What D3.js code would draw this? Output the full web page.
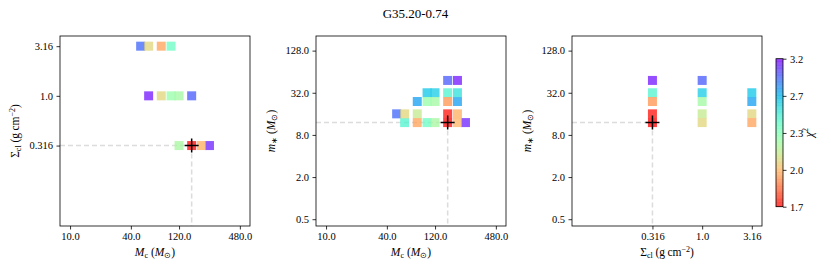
<!DOCTYPE html>
<html>
<head>
<meta charset="utf-8">
<script src="https://cdn.jsdelivr.net/npm/d3@7/dist/d3.min.js"></script>
<style>
  body { margin: 0; background: #fff; }
  svg text { font-family: "Liberation Serif", "Times New Roman", serif; fill: #000; }
</style>
</head>
<body>
<svg id="chart" width="831" height="271"></svg>
<script>
// ---- data ----
var titleText = 'G35.20-0.74';

// one entry per model
var mcValues    = [160, 160, 160, 160, 160, 200, 200, 200, 200, 200, 240, 120, 120, 120, 100, 100, 100, 80, 80, 80, 80, 60, 50, 60, 60];
var sigmaValues = [0.316, 0.316, 0.316, 0.316, 1.0, 0.316, 0.316, 0.316, 0.316, 0.316, 0.316, 0.316, 1.0, 1.0, 1.0, 3.16, 3.16, 3.16, 1.0, 3.16, 1.0, 3.16, 3.16, 3.16, 1.0];
var mstarValues = [12, 16, 24, 32, 48, 48, 32, 24, 16, 12, 12, 12, 24, 32, 24, 32, 12, 12, 12, 24, 16, 16, 16, 12, 12];
var chi2Values  = [1.70, 1.72, 1.92, 2.48, 2.98, 3.15, 2.58, 2.80, 1.98, 1.99, 3.12, 2.22, 2.24, 2.66, 2.27, 2.68, 2.40, 1.95, 2.07, 2.80, 2.15, 2.07, 2.95, 2.48, 3.15];

var bestModel = [160, 0.316, 12]; // Mc, Sigma_cl, m*

var mcTicks = [10, 40, 120, 480];
var mcTickLabels = ['10.0', '40.0', '120.0', '480.0'];
var sigmaTicks = [0.316, 1.0, 3.16];
var sigmaTickLabels = ['0.316', '1.0', '3.16'];
var mstarTicks = [0.5, 2, 8, 32, 128];
var mstarTickLabels = ['0.5', '2.0', '8.0', '32.0', '128.0'];
var chi2Ticks = [1.7, 1.99, 2.33, 2.73, 3.2];
var chi2TickLabels = ['1.7', '2.0', '2.3', '2.7', '3.2'];

// ---- layout ----
var svg = d3.select('#chart');
var plotTop = 36, size = 190;
var panelLefts = [60, 316, 572];

var axisDefs = {
    mc:    { domain: [7.95, 605], ticks: mcTicks, labels: mcTickLabels, best: bestModel[0] },
    sigma: { domain: [0.049, 4.0], ticks: sigmaTicks, labels: sigmaTickLabels, best: bestModel[1] },
    mstar: { domain: [0.4, 207], ticks: mstarTicks, labels: mstarTickLabels, best: bestModel[2] }
};

var models = mcValues.map(function(m, i) {
    return { mc: m, sigma: sigmaValues[i], mstar: mstarValues[i], chi2: chi2Values[i] };
});

// best chi2 for each cell of a 2-parameter projection
function project(xKey, yKey) {
    var roll = d3.rollups(models,
        function(v) { return d3.min(v, function(d) { return d.chi2; }); },
        function(d) { return d[xKey]; },
        function(d) { return d[yKey]; });
    var cells = [];
    roll.forEach(function(r) {
        r[1].forEach(function(c) {
            cells.push({ x: r[0], y: c[0], chi2: c[1] });
        });
    });
    cells.sort(function(a, b) { return b.chi2 - a.chi2; });
    return cells;
}

var norm = d3.scaleLog().domain([1.7, 3.2]).range([0, 1]).clamp(true);

// matplotlib "rainbow", reversed
function rainbowR(t) {
    var x = 1 - t;
    var r = Math.min(1, Math.abs(2 * x - 0.5));
    var g = Math.max(0, Math.sin(Math.PI * x));
    var b = Math.max(0, Math.cos(Math.PI * x / 2));
    return d3.rgb(r * 255, g * 255, b * 255).toString();
}
function colour(v) { return rainbowR(norm(v)); }

var alpha = 0.75;
var box = 9;

var panels = [
    { left: panelLefts[0], xKey: 'mc', yKey: 'sigma' },
    { left: panelLefts[1], xKey: 'mc', yKey: 'mstar' },
    { left: panelLefts[2], xKey: 'sigma', yKey: 'mstar' }
];

// ---- label helpers ----
var subSize = 8;
function mcLabel(sel) {
    sel.append('tspan').attr('font-style', 'italic').text('M');
    sel.append('tspan').attr('font-size', subSize).attr('dy', 2).text('c');
    sel.append('tspan').attr('dy', -2).text(' (');
    sel.append('tspan').attr('font-style', 'italic').text('M');
    sel.append('tspan').attr('font-size', subSize).attr('dy', 2).text('\u2299');
    sel.append('tspan').attr('dy', -2).text(')');
}
function sigmaLabel(sel) {
    sel.append('tspan').text('\u03A3');
    sel.append('tspan').attr('font-size', subSize).attr('dy', 2).text('cl');
    sel.append('tspan').attr('dy', -2).text(' (g\u2009cm');
    sel.append('tspan').attr('font-size', subSize).attr('dy', -4.5).text('\u22122');
    sel.append('tspan').attr('dy', 4.5).text(')');
}
function mstarLabel(sel) {
    sel.append('tspan').attr('font-style', 'italic').text('m');
    sel.append('tspan').attr('font-size', subSize).attr('dy', 2).text('\u2217');
    sel.append('tspan').attr('dy', -2).text(' (');
    sel.append('tspan').attr('font-style', 'italic').text('M');
    sel.append('tspan').attr('font-size', subSize).attr('dy', 2).text('\u2299');
    sel.append('tspan').attr('dy', -2).text(')');
}
var labelFns = { mc: mcLabel, sigma: sigmaLabel, mstar: mstarLabel };

// ---- title ----
svg.append('text')
    .attr('x', 415.5).attr('y', 18)
    .attr('text-anchor', 'middle')
    .attr('font-size', 13)
    .text(titleText);

// ---- panels ----
panels.forEach(function(p) {
    var xd = axisDefs[p.xKey], yd = axisDefs[p.yKey];
    var x = d3.scaleLog().domain(xd.domain).range([p.left, p.left + size]);
    var y = d3.scaleLog().domain(yd.domain).range([plotTop + size, plotTop]);
    var g = svg.append('g');

    var bx = x(xd.best), by = y(yd.best);
    var dash = g.append('g')
        .attr('stroke', '#dcdcdc')
        .attr('stroke-width', 1.5)
        .attr('stroke-dasharray', '5,3');
    dash.append('line').attr('x1', p.left).attr('x2', bx).attr('y1', by).attr('y2', by);
    dash.append('line').attr('x1', bx).attr('x2', bx).attr('y1', by).attr('y2', plotTop + size);

    g.selectAll('rect.model')
        .data(project(p.xKey, p.yKey))
        .enter()
        .append('rect')
        .attr('class', 'model')
        .attr('x', function(d) { return x(d.x) - box / 2; })
        .attr('y', function(d) { return y(d.y) - box / 2; })
        .attr('width', box)
        .attr('height', box)
        .attr('fill', function(d) { return colour(d.chi2); })
        .attr('fill-opacity', alpha);

    // best-fit cross
    g.append('path')
        .attr('d', 'M' + (bx - 7) + ',' + by + 'H' + (bx + 7) + 'M' + bx + ',' + (by - 7) + 'V' + (by + 7))
        .attr('stroke', '#000')
        .attr('stroke-width', 1.5);

    // frame
    g.append('rect')
        .attr('x', p.left).attr('y', plotTop)
        .attr('width', size).attr('height', size)
        .attr('fill', 'none')
        .attr('stroke', '#000')
        .attr('stroke-width', 0.8);

    var xAxis = d3.axisBottom(x)
        .tickValues(xd.ticks)
        .tickFormat(function(d, i) { return xd.labels[i]; })
        .tickSize(3.5).tickPadding(3.5);
    var yAxis = d3.axisLeft(y)
        .tickValues(yd.ticks)
        .tickFormat(function(d, i) { return yd.labels[i]; })
        .tickSize(3.5).tickPadding(3.5);

    var gx = g.append('g').attr('transform', 'translate(0,' + (plotTop + size) + ')').call(xAxis);
    var gy = g.append('g').attr('transform', 'translate(' + p.left + ',0)').call(yAxis);
    [gx, gy].forEach(function(a) {
        a.select('.domain').remove();
        a.selectAll('line').attr('stroke-width', 0.8);
        a.selectAll('text').attr('font-size', 10.5).attr('font-family', null);
    });

    g.append('text')
        .attr('x', p.left + size / 2).attr('y', 256)
        .attr('text-anchor', 'middle')
        .attr('font-size', 11.5)
        .call(labelFns[p.xKey]);

    g.append('text')
        .attr('transform', 'translate(' + (p.left - 41) + ',' + (plotTop + size / 2) + ') rotate(-90)')
        .attr('text-anchor', 'middle')
        .attr('font-size', 11.5)
        .call(labelFns[p.yKey]);
});

// ---- colour bar ----
var cbX = 776, cbW = 7, cbTop = 58.7, cbBot = 206.7;
var cb = d3.scaleLog().domain([1.7, 3.2]).range([cbBot, cbTop]);
var bands = d3.range(64).map(function(i) { return i / 64; });
var cbg = svg.append('g');
cbg.selectAll('rect.band')
    .data(bands)
    .enter()
    .append('rect')
    .attr('class', 'band')
    .attr('x', cbX)
    .attr('width', cbW)
    .attr('y', function(t) { return cbBot - (t + 1 / 64) * (cbBot - cbTop); })
    .attr('height', (cbBot - cbTop) / 64 + 0.3)
    .attr('fill', function(t) { return rainbowR(t + 0.5 / 64); })
    .attr('fill-opacity', alpha);
cbg.append('rect')
    .attr('x', cbX).attr('y', cbTop)
    .attr('width', cbW).attr('height', cbBot - cbTop)
    .attr('fill', 'none').attr('stroke', '#000').attr('stroke-width', 0.8);
var cbAxis = d3.axisRight(cb)
    .tickValues(chi2Ticks)
    .tickFormat(function(d, i) { return chi2TickLabels[i]; })
    .tickSize(3.5).tickPadding(3.5);
var cba = cbg.append('g').attr('transform', 'translate(' + (cbX + cbW) + ',0)').call(cbAxis);
cba.select('.domain').remove();
cba.selectAll('line').attr('stroke-width', 0.8);
cba.selectAll('text').attr('font-size', 10.5).attr('font-family', null);

var cbl = cbg.append('text')
    .attr('transform', 'translate(813,' + ((cbTop + cbBot) / 2) + ') rotate(-90)')
    .attr('text-anchor', 'middle')
    .attr('font-size', 12);
cbl.append('tspan').attr('font-style', 'italic').text('\u03C7');
cbl.append('tspan').attr('font-size', 8).attr('dy', -5).text('2');
</script>
</body>
</html>
